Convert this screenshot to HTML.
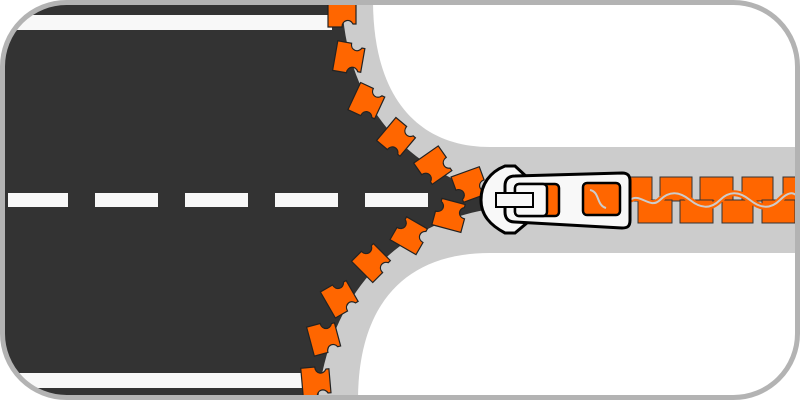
<!DOCTYPE html>
<html><head><style>html,body{margin:0;padding:0;background:#fff}svg{display:block}</style></head>
<body>
<svg width="800" height="400" viewBox="0 0 800 400" xmlns="http://www.w3.org/2000/svg">
<defs>
<clipPath id="c"><rect x="2" y="2" width="796" height="396" rx="64" ry="64"/></clipPath>
<g id="tooth">
<path d="M-15,-14 L15,-14 L15,0 C8,0 6,8 12,11 L12,14 L-12,14 L-12,11 C-6,8 -8,0 -15,0 Z" fill="#ff6600" stroke="#222" stroke-width="1.2"/>
</g>
</defs>
<g clip-path="url(#c)">
<rect x="0" y="0" width="800" height="400" fill="#cccccc"/>
<path d="M373,0 C373,100 420,147 490,147 L800,147 L800,0 Z" fill="#fff"/>
<path d="M358,400 C358,310 400,253 490,253 L800,253 L800,400 Z" fill="#fff"/>
<path d="M0,0 L342,0 C345,90 390,160 485,192 L485,210 C400,225 330,290 318,400 L0,400 Z" fill="#333333"/>
<rect x="0" y="15" width="332" height="15" fill="#f8f8f8"/>
<rect x="0" y="373" width="306" height="15" fill="#f8f8f8"/>
<g fill="#f8f8f8">
<rect x="8" y="193" width="60" height="14"/>
<rect x="95" y="193" width="63" height="14"/>
<rect x="185" y="193" width="63" height="14"/>
<rect x="275" y="193" width="63" height="14"/>
<rect x="365" y="193" width="63" height="14"/>
</g>
<use href="#tooth" transform="translate(342,12) rotate(-90)"/>
<use href="#tooth" transform="translate(349,58) rotate(-80)"/>
<use href="#tooth" transform="translate(367,102) rotate(-65)"/>
<use href="#tooth" transform="translate(397,138) rotate(-50)"/>
<use href="#tooth" transform="translate(434,166) rotate(-35)"/>
<use href="#tooth" transform="translate(470,185) rotate(-20)"/>
<use href="#tooth" transform="translate(450,215) rotate(195)"/>
<use href="#tooth" transform="translate(410,235) rotate(210)"/>
<use href="#tooth" transform="translate(372,262) rotate(225)"/>
<use href="#tooth" transform="translate(340,298) rotate(240)"/>
<use href="#tooth" transform="translate(324,338) rotate(255)"/>
<use href="#tooth" transform="translate(316,382) rotate(265)"/>
<g fill="#ff6600" stroke="#333" stroke-width="1">
<rect x="620" y="177" width="32" height="24"/>
<rect x="660" y="177" width="32" height="24"/>
<rect x="700" y="177" width="33" height="24"/>
<rect x="742" y="177" width="31" height="24"/>
<rect x="783" y="177" width="20" height="24"/>
<rect x="638" y="200" width="34" height="23"/>
<rect x="680" y="200" width="33" height="23"/>
<rect x="722" y="200" width="31" height="23"/>
<rect x="762" y="200" width="33" height="23"/>
</g>
<path d="M630,200 C640,192 650,210 660,200 S680,192 690,200 S710,210 720,200 S740,192 750,200 S770,210 780,200 S795,192 800,200" fill="none" stroke="#ff6600" stroke-width="6"/>
<path d="M630,200 C640,192 650,210 660,200 S680,192 690,200 S710,210 720,200 S740,192 750,200 S770,210 780,200 S795,192 800,200" fill="none" stroke="#ccc" stroke-width="2"/>
</g>
<rect x="2.5" y="2.5" width="795" height="395" rx="64" ry="64" fill="none" stroke="#b3b3b3" stroke-width="5"/>
<path d="M505,166 L515,166 L528,178 L528,222 L515,233 L505,233 C490,225 481,215 481,200 C481,184 490,172 505,166 Z" fill="#f8f8f8" stroke="#000" stroke-width="3"/>
<path d="M515,176 L622,173 C628,173 630,176 630,181 L630,220 C630,226 628,228 622,228 L515,222 C508,222 505,218 505,212 L505,186 C505,180 508,176 515,176 Z" fill="#f8f8f8" stroke="#000" stroke-width="3"/>
<rect x="515" y="184" width="44" height="32" rx="4" fill="#ff6600" stroke="#000" stroke-width="2.5"/>
<rect x="515" y="184" width="32" height="32" rx="4" fill="#f8f8f8" stroke="#000" stroke-width="2.5"/>
<rect x="583" y="183" width="37" height="32" rx="4" fill="#ff6600" stroke="#000" stroke-width="2.5"/>
<path d="M590,190 C600,192 596,205 606,208" fill="none" stroke="#ccc" stroke-width="2"/>
<rect x="496" y="193" width="37" height="14" fill="#f8f8f8" stroke="#000" stroke-width="2"/>
</svg>
</body></html>
